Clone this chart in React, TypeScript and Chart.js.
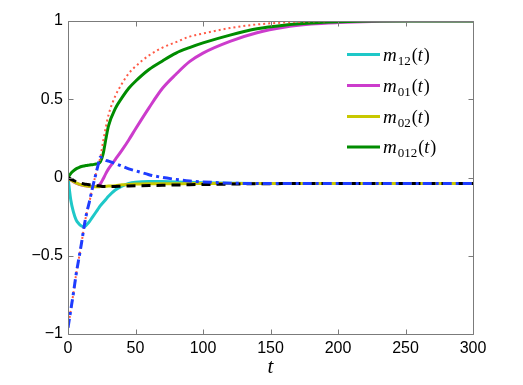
import { useEffect, useRef } from 'react';
import { Chart, registerables } from 'chart.js';

Chart.register(...registerables);

// time grid
const T = [0, 2, 4, 6, 8, 10, 12, 14, 16, 18, 20, 22, 24, 26, 28, 30, 35, 40, 45, 50, 60, 70, 80, 90, 100, 120, 140, 160, 180, 200, 225, 250, 300];

const m12 = [0, -0.14, -0.22, -0.27, -0.295, -0.31, -0.315, -0.3, -0.28, -0.255, -0.23, -0.205, -0.18, -0.16, -0.14, -0.12, -0.08, -0.055, -0.038, -0.03, -0.025, -0.026, -0.028, -0.031, -0.034, -0.037, -0.038, -0.038, -0.038, -0.038, -0.038, -0.038, -0.038];
const m01 = [0, -0.015, -0.027, -0.036, -0.043, -0.048, -0.052, -0.055, -0.057, -0.058, -0.058, -0.055, -0.04, -0.01, 0.025, 0.055, 0.115, 0.175, 0.24, 0.31, 0.445, 0.57, 0.66, 0.74, 0.795, 0.87, 0.925, 0.96, 0.98, 0.99, 0.997, 1, 1];
const m02 = [0, -0.015, -0.026, -0.035, -0.042, -0.047, -0.051, -0.054, -0.057, -0.058, -0.059, -0.059, -0.058, -0.057, -0.056, -0.055, -0.052, -0.047, -0.044, -0.042, -0.04, -0.04, -0.04, -0.039, -0.039, -0.038, -0.038, -0.038, -0.038, -0.038, -0.038, -0.038, -0.038];
const m012 = [0, 0.025, 0.042, 0.055, 0.063, 0.07, 0.074, 0.077, 0.08, 0.082, 0.085, 0.088, 0.1, 0.15, 0.245, 0.33, 0.44, 0.51, 0.57, 0.615, 0.69, 0.745, 0.795, 0.83, 0.86, 0.91, 0.95, 0.973, 0.987, 0.995, 1, 1, 1];
const redDotted = [-0.96, -0.85, -0.74, -0.62, -0.52, -0.42, -0.31, -0.22, -0.15, -0.07, 0.0, 0.07, 0.13, 0.23, 0.32, 0.4, 0.52, 0.6, 0.665, 0.71, 0.78, 0.83, 0.865, 0.9, 0.92, 0.955, 0.978, 0.99, 0.997, 1, 1, 1, 1];
const blueDashDot = [-0.96, -0.85, -0.74, -0.62, -0.52, -0.42, -0.31, -0.22, -0.15, -0.07, 0.0, 0.07, 0.13, 0.12, 0.11, 0.105, 0.09, 0.072, 0.055, 0.043, 0.018, 0.0, -0.012, -0.022, -0.028, -0.036, -0.038, -0.038, -0.038, -0.038, -0.038, -0.038, -0.038];
const blackDashed = [0, -0.01, -0.018, -0.026, -0.032, -0.037, -0.041, -0.044, -0.047, -0.049, -0.051, -0.053, -0.055, -0.057, -0.058, -0.058, -0.057, -0.055, -0.054, -0.053, -0.051, -0.05, -0.048, -0.046, -0.045, -0.042, -0.04, -0.039, -0.038, -0.038, -0.038, -0.038, -0.038];

const X_TICKS = [0, 50, 100, 150, 200, 250, 300];
const Y_TICKS = [-1, -0.5, 0, 0.5, 1];
const Y_LABELS = ['\u22121', '\u22120.5', '0', '0.5', '1'];

const LEGEND_NAMES = ['12', '01', '02', '012'];

const AXIS = '#7b7b7b';
const C_CYAN = '#1ec8c8';
const C_MAG = '#cc3ccc';
const C_YEL = '#c8c800';
const C_GRN = '#008c00';
const C_RED = '#ff5a46';
const C_BLUE = '#1e3cff';

const pts = (ys: number[]) => T.map((t, i) => ({ x: t, y: ys[i] }));

const boxPlugin = {
  id: 'boxTicks',
  afterDraw(chart: any) {
    const { ctx, chartArea: a, scales } = chart;
    const xs = scales.x;
    const ys = scales.y;
    const L = Math.round(a.left) + 0.5;
    const R = Math.round(a.right) + 0.5;
    const Tp = Math.round(a.top) + 0.5;
    const B = Math.round(a.bottom) + 0.5;
    ctx.save();
    ctx.strokeStyle = AXIS;
    ctx.lineWidth = 1;
    ctx.beginPath();
    ctx.rect(L, Tp, R - L, B - Tp);
    const tl = 5;
    X_TICKS.forEach((v) => {
      const px = Math.round(xs.getPixelForValue(v)) + 0.5;
      ctx.moveTo(px, B);
      ctx.lineTo(px, B - tl);
      ctx.moveTo(px, Tp);
      ctx.lineTo(px, Tp + tl);
    });
    Y_TICKS.forEach((v) => {
      const py = Math.round(ys.getPixelForValue(v)) + 0.5;
      ctx.moveTo(L, py);
      ctx.lineTo(L + tl, py);
      ctx.moveTo(R, py);
      ctx.lineTo(R - tl, py);
    });
    ctx.stroke();

    // x axis title
    ctx.fillStyle = '#000';
    ctx.font = 'italic 21px "Liberation Serif"';
    ctx.textAlign = 'center';
    ctx.textBaseline = 'alphabetic';
    ctx.fillText('t', (a.left + a.right) / 2, 373);

    // legend
    const colors = [C_CYAN, C_MAG, C_YEL, C_GRN];
    const rowsY = [54.5, 85.5, 116.5, 147];
    ctx.textAlign = 'left';
    LEGEND_NAMES.forEach((name, i) => {
      const y = rowsY[i];
      ctx.strokeStyle = colors[i];
      ctx.lineWidth = 3;
      ctx.beginPath();
      ctx.moveTo(347, y);
      ctx.lineTo(380, y);
      ctx.stroke();
      const base = y + 6;
      let x = 383;
      ctx.fillStyle = '#000';
      ctx.font = 'italic 19px "Liberation Serif"';
      ctx.fillText('m', x, base);
      x += ctx.measureText('m').width + 1;
      ctx.font = '13px "Liberation Serif"';
      ctx.fillText(name, x, base + 4);
      x += ctx.measureText(name).width + 1;
      ctx.font = '18px "Liberation Serif"';
      ctx.fillText('(', x, base);
      x += ctx.measureText('(').width;
      ctx.font = 'italic 18px "Liberation Serif"';
      ctx.fillText('t', x, base);
      x += ctx.measureText('t').width + 1;
      ctx.font = '18px "Liberation Serif"';
      ctx.fillText(')', x, base);
    });
    ctx.restore();
  },
};

export default function App() {
  const ref = useRef<HTMLCanvasElement | null>(null);
  useEffect(() => {
    if (!ref.current) return;
    const base = {
      pointRadius: 0,
      fill: false,
      cubicInterpolationMode: 'monotone' as const,
    };
    const chart = new Chart(ref.current, {
      type: 'line',
      data: {
        datasets: [
          { ...base, label: 'm12(t)', data: pts(m12), borderColor: C_CYAN, borderWidth: 3, order: 7 },
          { ...base, label: 'm01(t)', data: pts(m01), borderColor: C_MAG, borderWidth: 3, order: 6 },
          { ...base, label: 'm02(t)', data: pts(m02), borderColor: C_YEL, borderWidth: 3, order: 5 },
          { ...base, label: 'm012(t)', data: pts(m012), borderColor: C_GRN, borderWidth: 3, order: 4 },
          { ...base, label: 'red', data: pts(redDotted), borderColor: C_RED, borderWidth: 2, borderDash: [2, 3], order: 3 },
          { ...base, label: 'black', data: pts(blackDashed), borderColor: '#000', borderWidth: 3, borderDash: [9, 6], order: 2 },
          { ...base, label: 'blue', data: pts(blueDashDot), borderColor: C_BLUE, borderWidth: 3, borderDash: [9, 4, 3, 4], order: 1 },
        ],
      },
      options: {
        animation: false,
        responsive: false,
        layout: { padding: { top: 21, right: 50, left: 0, bottom: 0 } },
        plugins: { legend: { display: false }, tooltip: { enabled: false } },
        scales: {
          x: {
            type: 'linear',
            min: 0,
            max: 300,
            grid: { display: false, drawTicks: false },
            border: { display: false },
            afterFit: (s: any) => { s.height = 51; },
            afterBuildTicks: (s: any) => { s.ticks = X_TICKS.map((v) => ({ value: v })); },
            ticks: {
              padding: 5,
              color: '#000',
              font: { family: '"Liberation Sans", Arial, sans-serif', size: 16 },
              maxRotation: 0,
              callback: (v: any) => String(v),
            },
          },
          y: {
            type: 'linear',
            min: -1,
            max: 1,
            grid: { display: false, drawTicks: false },
            border: { display: false },
            afterFit: (s: any) => { s.width = 68; },
            afterBuildTicks: (s: any) => { s.ticks = Y_TICKS.map((v) => ({ value: v })); },
            ticks: {
              padding: 5,
              color: '#000',
              font: { family: '"Liberation Sans", Arial, sans-serif', size: 16 },
              callback: (v: any) => {
                const i = Y_TICKS.indexOf(Number(v));
                return i >= 0 ? Y_LABELS[i] : '';
              },
            },
          },
        },
      },
      plugins: [boxPlugin],
    });
    return () => chart.destroy();
  }, []);
  return (
    <div style={{ position: 'absolute', left: 0, top: 0, width: 523, height: 385, background: '#fff' }}>
      <canvas ref={ref} width={523} height={385} style={{ display: 'block' }} />
    </div>
  );
}
